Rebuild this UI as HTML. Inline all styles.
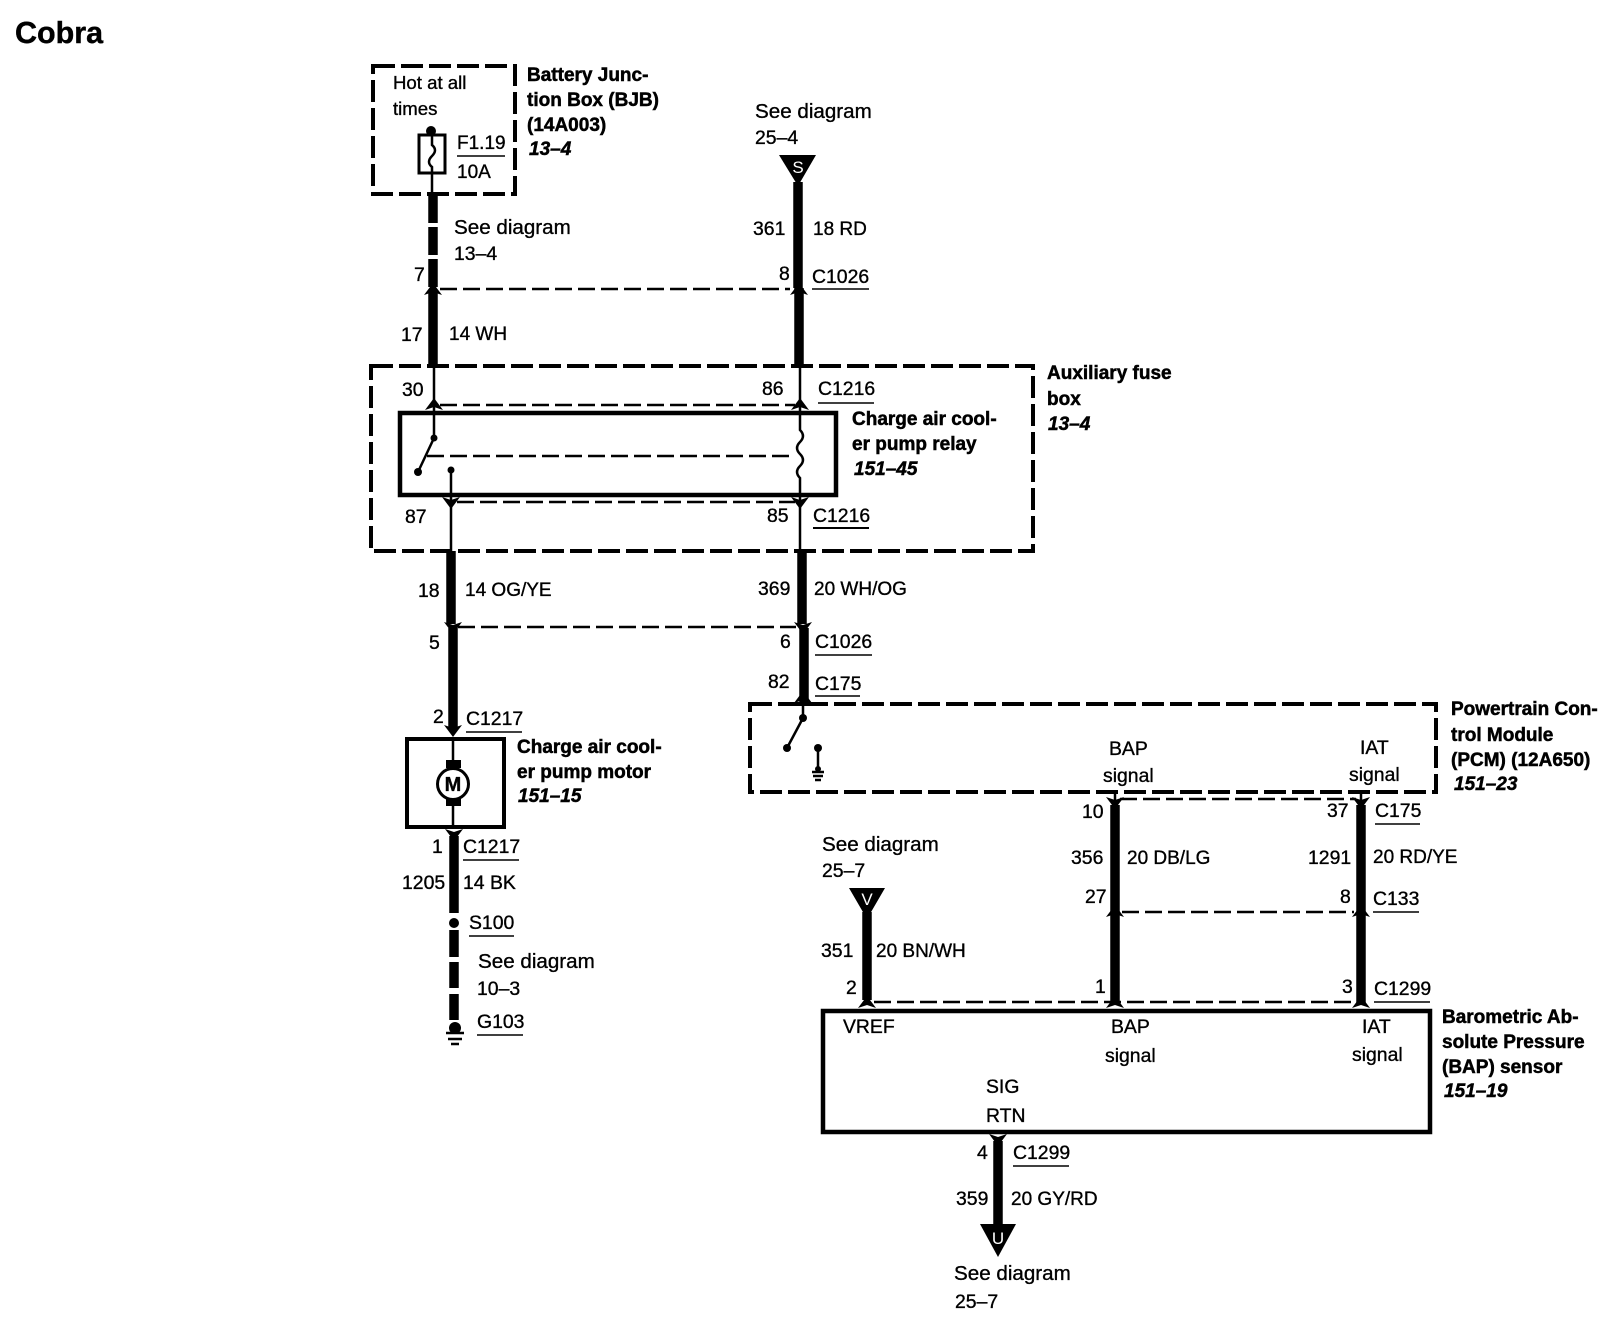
<!DOCTYPE html>
<html><head><meta charset="utf-8"><title>Cobra</title>
<style>
html,body{margin:0;padding:0;background:#fff}
svg{display:block}
text{font-family:"Liberation Sans",sans-serif;font-size:19.4px;fill:#000;stroke:#000;stroke-width:.35px}
.sd{font-size:20.6px}
.g{font-size:19px}
.b{font-weight:bold;font-size:19px;stroke-width:.5px}
.i{font-weight:bold;font-style:italic;font-size:19px;stroke-width:.5px}
.w{stroke:#000;stroke-width:9.5;fill:none}
.t{stroke:#000;stroke-width:2.5;fill:none}
.box{stroke:#000;stroke-width:4;fill:none;stroke-dasharray:22 6}
.c{stroke:#000;stroke-width:2.5;fill:none;stroke-dasharray:17 6}
.s{stroke:#000;stroke-width:4.5;fill:none}
.u{stroke:#000;stroke-width:1.5}
</style></head><body>
<svg xmlns="http://www.w3.org/2000/svg" width="1616" height="1344" viewBox="0 0 1616 1344">
<defs>
<path id="up" d="M-9 5L0-7 9 5 0 2Z"/>
<path id="dn" d="M-9-5L0 7 9-5 0-2Z"/>
</defs>
<text x="15" y="43" style="font-size:30.5px;font-weight:bold;stroke-width:.4px">Cobra</text>

<!-- Dashed component boxes -->
<rect class="box" x="373" y="66" width="142" height="128"/>
<rect class="box" x="371" y="366" width="662" height="185"/>
<rect class="box" x="750" y="704" width="686" height="88"/>

<!-- Solid boxes -->
<rect class="s" x="400" y="413" width="436" height="82"/>
<rect class="s" x="407" y="739" width="97" height="88" style="stroke-width:4"/>
<rect class="s" x="823" y="1011" width="607" height="121"/>

<!-- BJB -->
<text x="393" y="89" style="font-size:18.6px">Hot at all</text>
<text x="393" y="115" style="font-size:18.6px">times</text>
<circle cx="431" cy="131" r="5"/>
<rect class="t" x="419" y="135" width="26" height="38" style="stroke-width:3"/>
<path class="t" d="M432 135v10q6 5 0 11t0 11v27"/>
<text x="457" y="149" style="font-size:19px">F1.19</text>
<line class="u" x1="457" y1="156" x2="505" y2="156"/>
<text x="457" y="178" style="font-size:19px">10A</text>
<text class="b" x="527" y="81">Battery Junc-</text>
<text class="b" x="527" y="106">tion Box (BJB)</text>
<text class="b" x="527" y="131">(14A003)</text>
<text class="i" x="529" y="155">13–4</text>

<!-- Left upper wire -->
<path class="w" d="M433 194v29M433 227v28M433 259v28M433 292v74"/>
<text class="sd" x="454" y="234">See diagram</text>
<text x="454" y="260">13–4</text>
<text x="414" y="281">7</text>
<use href="#up" x="433" y="290"/>
<path class="c" d="M440 289H790"/>
<text x="401" y="341">17</text>
<text class="g" x="449" y="340">14 WH</text>

<!-- Right upper wire -->
<text class="sd" x="755" y="118">See diagram</text>
<text x="755" y="144">25–4</text>
<path d="M779 155H816L798 186Z"/>
<text x="798" y="173" text-anchor="middle" style="fill:#fff;stroke:#fff;stroke-width:0;font-size:17px">S</text>
<path class="w" d="M798 182V288M799 288V366"/>
<use href="#up" x="799" y="290"/>
<text x="753" y="235">361</text>
<text class="g" x="813" y="235">18 RD</text>
<text x="779" y="280">8</text>
<text x="812" y="283">C1026</text>
<line class="u" x1="812" y1="289" x2="869" y2="289"/>

<!-- Fuse box internals -->
<path class="t" d="M434 366V438L418 472"/>
<circle cx="434" cy="438" r="3.5"/>
<circle cx="418" cy="472" r="4"/>
<path class="t" d="M800 366V430q6 6 0 12t0 12t0 12t0 12V551"/>
<use href="#up" x="434" y="405"/>
<use href="#up" x="800" y="405"/>
<path class="c" d="M440 405H795"/>
<path class="c" d="M427 456H795"/>
<path class="t" d="M451 470V551"/>
<circle cx="451" cy="470" r="3.5"/>
<use href="#dn" x="451" y="502"/>
<use href="#dn" x="800" y="502"/>
<path class="c" d="M457 502H795"/>
<text x="402" y="396">30</text>
<text x="762" y="395">86</text>
<text x="818" y="395">C1216</text>
<line class="u" x1="818" y1="403" x2="874" y2="403"/>
<text class="b" x="852" y="425">Charge air cool-</text>
<text class="b" x="852" y="450">er pump relay</text>
<text class="i" x="854" y="475">151–45</text>
<text x="405" y="523">87</text>
<text x="767" y="522">85</text>
<text x="813" y="522">C1216</text>
<line class="u" x1="813" y1="528" x2="869" y2="528" style="stroke-width:2"/>
<text class="b" x="1047" y="379">Auxiliary fuse</text>
<text class="b" x="1047" y="405">box</text>
<text class="i" x="1048" y="430">13–4</text>

<!-- Middle wires -->
<path class="w" d="M451 551V624M453 628V730"/>
<path class="w" d="M802 551V624M804 628V706"/>
<use href="#dn" x="453" y="627"/>
<use href="#dn" x="803" y="627"/>
<path class="c" d="M458 627H796"/>
<text x="418" y="597">18</text>
<text class="g" x="465" y="596">14 OG/YE</text>
<text x="758" y="595">369</text>
<text class="g" x="814" y="595">20 WH/OG</text>
<text x="429" y="649">5</text>
<text x="780" y="648">6</text>
<text x="815" y="648">C1026</text>
<line class="u" x1="815" y1="655" x2="872" y2="655"/>
<text x="768" y="688">82</text>
<text x="815" y="690">C175</text>
<line class="u" x1="815" y1="696" x2="860" y2="696"/>
<use href="#up" x="803" y="698"/>

<!-- Motor -->
<text x="433" y="723">2</text>
<text x="466" y="725">C1217</text>
<line class="u" x1="466" y1="732" x2="522" y2="732"/>
<use href="#dn" x="453" y="730"/>
<path class="t" d="M453 739V827"/>
<rect x="446" y="760" width="15" height="8"/>
<rect x="446" y="798" width="15" height="8"/>
<circle cx="453" cy="784" r="15.5" fill="#fff" stroke="#000" stroke-width="3"/>
<text x="453" y="791" text-anchor="middle" style="font-weight:bold;font-size:20px">M</text>
<text class="b" x="517" y="753">Charge air cool-</text>
<text class="b" x="517" y="778">er pump motor</text>
<text class="i" x="518" y="802">151–15</text>
<use href="#dn" x="454" y="834"/>
<path class="w" d="M454 836V913M454 930V957M454 962V988M454 994V1020"/>
<circle cx="454" cy="923" r="5"/>
<text x="432" y="853">1</text>
<text x="463" y="853">C1217</text>
<line class="u" x1="463" y1="860" x2="519" y2="860"/>
<text x="402" y="889">1205</text>
<text x="463" y="889">14 BK</text>
<text x="469" y="929">S100</text>
<line class="u" x1="469" y1="936" x2="514" y2="936"/>
<text class="sd" x="478" y="968">See diagram</text>
<text x="477" y="995">10–3</text>
<text x="477" y="1028">G103</text>
<line class="u" x1="477" y1="1035" x2="523" y2="1035"/>
<circle cx="455" cy="1028" r="6"/>
<path stroke="#000" stroke-width="2.5" d="M446 1033h18M448 1039h14M451 1044h8"/>

<!-- PCM -->
<path class="t" d="M803 704V718L787 748"/>
<circle cx="803" cy="718" r="4"/>
<circle cx="787" cy="748" r="4"/>
<circle cx="818" cy="748" r="4"/>
<path class="t" d="M818 748V772"/>
<path stroke="#000" stroke-width="2.5" d="M812 772h12M813 776h10M815 780h6"/>
<circle cx="818" cy="769" r="3"/>
<text x="1109" y="755">BAP</text>
<text x="1103" y="782">signal</text>
<text x="1360" y="754">IAT</text>
<text x="1349" y="781">signal</text>
<text class="b" x="1451" y="715">Powertrain Con-</text>
<text class="b" x="1451" y="741">trol Module</text>
<text class="b" x="1451" y="766">(PCM) (12A650)</text>
<text class="i" x="1454" y="790">151–23</text>

<!-- BAP/IAT wires -->
<path class="t" d="M1115 792V800M1361 792V800"/>
<use href="#dn" x="1115" y="802"/>
<use href="#dn" x="1361" y="802"/>
<path class="c" d="M1120 799H1356"/>
<path class="w" d="M1115 805V1004M1361 805V1004"/>
<use href="#up" x="1115" y="912"/>
<use href="#up" x="1361" y="912"/>
<path class="c" d="M1122 912H1354"/>
<text x="1082" y="818">10</text>
<text x="1327" y="817">37</text>
<text x="1375" y="817">C175</text>
<line class="u" x1="1375" y1="824" x2="1420" y2="824"/>
<text x="1071" y="864">356</text>
<text class="g" x="1127" y="864">20 DB/LG</text>
<text x="1308" y="864">1291</text>
<text class="g" x="1373" y="863">20 RD/YE</text>
<text x="1085" y="903">27</text>
<text x="1340" y="903">8</text>
<text x="1373" y="905">C133</text>
<line class="u" x1="1373" y1="912" x2="1419" y2="912"/>

<!-- VREF wire -->
<text class="sd" x="822" y="851">See diagram</text>
<text x="822" y="877">25–7</text>
<path d="M849 888H885L867 919Z"/>
<text x="867" y="905" text-anchor="middle" style="fill:#fff;stroke:#fff;stroke-width:0;font-size:17px">V</text>
<path class="w" d="M867 912V1000"/>
<text x="821" y="957">351</text>
<text class="g" x="876" y="957">20 BN/WH</text>
<text x="846" y="994">2</text>
<text x="1095" y="993">1</text>
<text x="1342" y="993">3</text>
<text x="1374" y="995">C1299</text>
<line class="u" x1="1374" y1="1002" x2="1430" y2="1002"/>
<use href="#up" x="867" y="1003"/>
<use href="#up" x="1115" y="1003"/>
<use href="#up" x="1361" y="1003"/>
<path class="c" d="M874 1002H1354"/>

<!-- Sensor -->
<text x="843" y="1033">VREF</text>
<text x="1111" y="1033">BAP</text>
<text x="1105" y="1062">signal</text>
<text x="1362" y="1033">IAT</text>
<text x="1352" y="1061">signal</text>
<text x="986" y="1093">SIG</text>
<text x="986" y="1122">RTN</text>
<text class="b" x="1442" y="1023">Barometric Ab-</text>
<text class="b" x="1442" y="1048">solute Pressure</text>
<text class="b" x="1442" y="1073">(BAP) sensor</text>
<text class="i" x="1444" y="1097">151–19</text>
<use href="#dn" x="998" y="1139"/>
<path class="w" d="M998 1141V1228"/>
<path d="M980 1224H1016L998 1257Z"/>
<text x="998" y="1244" text-anchor="middle" style="fill:#fff;stroke:#fff;stroke-width:0;font-size:17px">U</text>
<text x="977" y="1159">4</text>
<text x="1013" y="1159">C1299</text>
<line class="u" x1="1013" y1="1166" x2="1069" y2="1166"/>
<text x="956" y="1205">359</text>
<text class="g" x="1011" y="1205">20 GY/RD</text>
<text class="sd" x="954" y="1280">See diagram</text>
<text x="955" y="1308">25–7</text>
</svg>
</body></html>
